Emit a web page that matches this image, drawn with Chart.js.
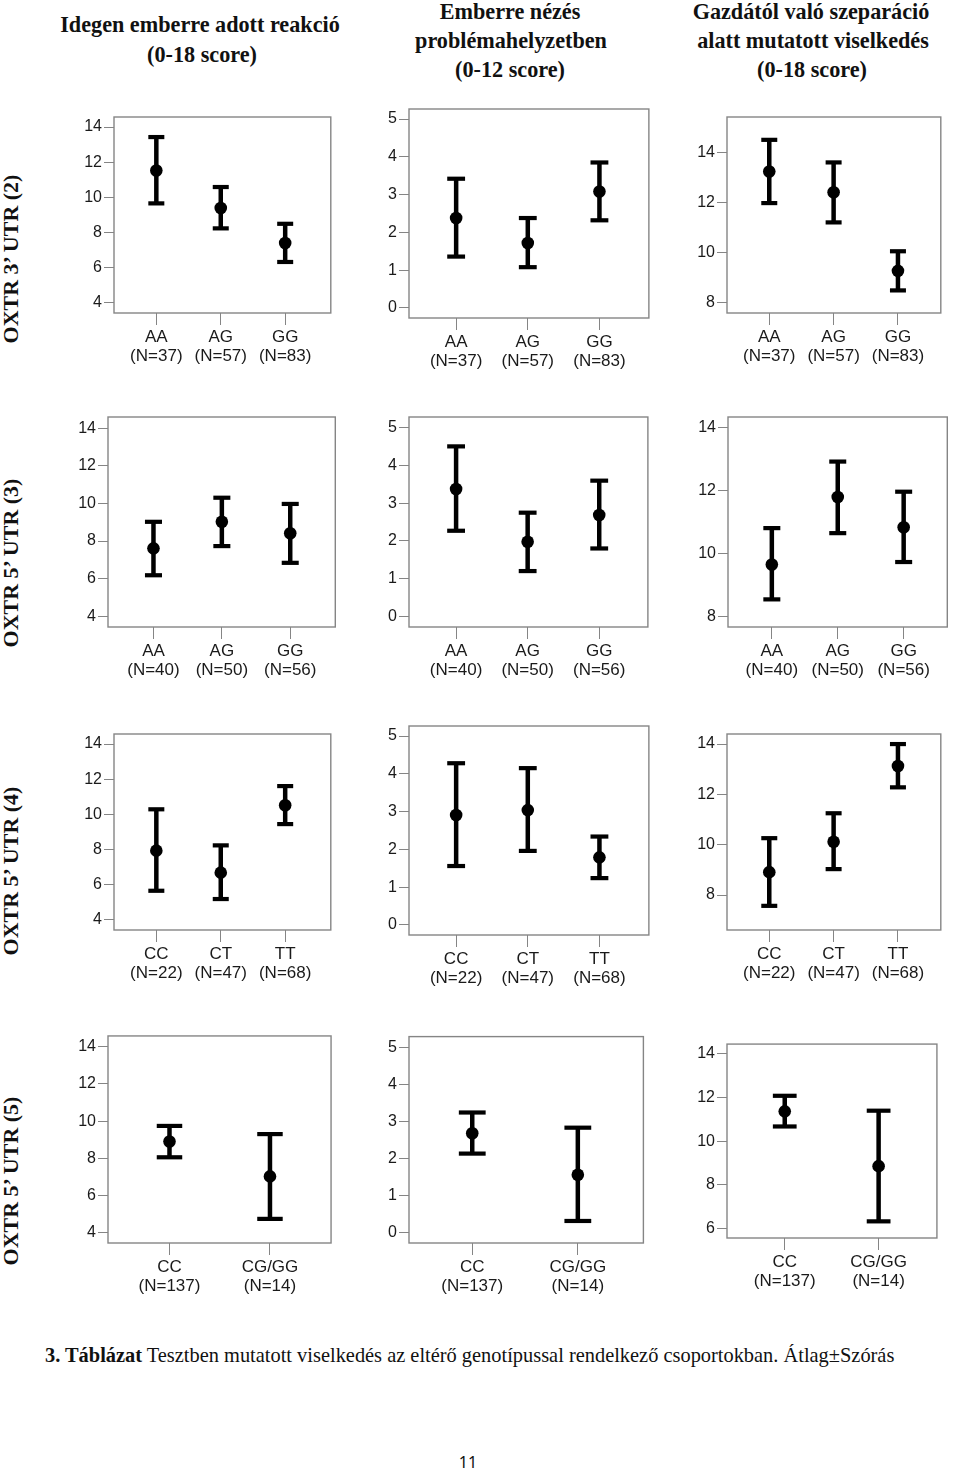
<!DOCTYPE html>
<html><head><meta charset="utf-8">
<script src="https://cdn.jsdelivr.net/npm/chart.js@4.4.0/dist/chart.umd.min.js"></script>
<style>
html,body{margin:0;padding:0;background:#fff;}
body{width:960px;height:1471px;position:relative;overflow:hidden;}
.tl{position:absolute;width:400px;height:30px;line-height:30px;text-align:center;font-family:"Liberation Serif","Times New Roman",serif;font-weight:bold;font-size:22.2px;color:#111;white-space:nowrap;}
.rl{position:absolute;width:300px;height:26px;line-height:26px;text-align:center;font-family:"Liberation Serif","Times New Roman",serif;font-weight:bold;font-size:22px;color:#111;white-space:nowrap;transform:rotate(-90deg);}
.cap{position:absolute;left:45px;top:1341px;height:28px;line-height:28px;font-family:"Liberation Serif","Times New Roman",serif;font-size:20.4px;color:#111;white-space:nowrap;}
.pg{position:absolute;left:448px;top:1451px;width:40px;text-align:center;font-family:"Noto Sans","Liberation Sans",sans-serif;font-size:16px;color:#111;}
canvas{position:absolute;}
</style></head><body>
<script>
// ---------- data ----------
const genoAG = ['AA','AG','GG'];
const genoCT = ['CC','CT','TT'];
const genoCG = ['CC','CG/GG'];
const nUTR3_2 = ['(N=37)','(N=57)','(N=83)'];
const nUTR5_3 = ['(N=40)','(N=50)','(N=56)'];
const nUTR5_4 = ['(N=22)','(N=47)','(N=68)'];
const nUTR5_5 = ['(N=137)','(N=14)'];
const ticksReac = [4,6,8,10,12,14];
const ticksLook = [0,1,2,3,4,5];
const ticksSep8 = [8,10,12,14];
const ticksSep6 = [6,8,10,12,14];

// row 1 : OXTR 3' UTR (2)
const r1ReacMean = [11.53, 9.40, 7.41], r1ReacLo = [9.66, 8.24, 6.33], r1ReacHi = [13.43, 10.59, 8.50];
const r1LookMean = [2.38, 1.72, 3.08], r1LookLo = [1.36, 1.08, 2.32], r1LookHi = [3.42, 2.38, 3.85];
const r1SepMean = [13.24, 12.41, 9.28], r1SepLo = [11.98, 11.21, 8.50], r1SepHi = [14.50, 13.60, 10.06];
// row 2 : OXTR 5' UTR (3)
const r2ReacMean = [7.61, 9.02, 8.41], r2ReacLo = [6.18, 7.73, 6.84], r2ReacHi = [9.02, 10.30, 9.97];
const r2LookMean = [3.38, 1.98, 2.69], r2LookLo = [2.27, 1.20, 1.80], r2LookHi = [4.51, 2.75, 3.60];
const r2SepMean = [9.65, 11.80, 10.84], r2SepLo = [8.54, 10.65, 9.73], r2SepHi = [10.81, 12.93, 11.97];
// row 3 : OXTR 5' UTR (4)
const r3ReacMean = [7.94, 6.69, 10.52], r3ReacLo = [5.66, 5.19, 9.45], r3ReacHi = [10.29, 8.24, 11.61];
const r3LookMean = [2.91, 3.04, 1.79], r3LookLo = [1.56, 1.96, 1.24], r3LookHi = [4.28, 4.15, 2.34];
const r3SepMean = [8.91, 10.12, 13.13], r3SepLo = [7.57, 9.03, 12.28], r3SepHi = [10.26, 11.25, 14.00];
// row 4 : OXTR 5' UTR (5)
const r4ReacMean = [8.90, 7.02], r4ReacLo = [8.05, 4.73], r4ReacHi = [9.74, 9.30];
const r4LookMean = [2.68, 1.56], r4LookLo = [2.13, 0.31], r4LookHi = [3.24, 2.83];
const r4SepMean = [11.36, 8.86], r4SepLo = [10.67, 6.34], r4SepHi = [12.07, 11.39];

// ---------- layout (box: left, top, right, bottom in page px; axis ranges) ----------
const panels = [
 {box:[114,117,333,313],  xr:[-0.657,2.708], yr:[3.43,14.57], ticks:ticksReac, cats:genoAG, ns:nUTR3_2, m:r1ReacMean, lo:r1ReacLo, hi:r1ReacHi},
 {box:[409,109,652,318],  xr:[-0.658,2.69],  yr:[-0.265,5.265], ticks:ticksLook, cats:genoAG, ns:nUTR3_2, m:r1LookMean, lo:r1LookLo, hi:r1LookHi},
 {box:[727,117,943,313],  xr:[-0.657,2.666], yr:[7.6,15.41], ticks:ticksSep8, cats:genoAG, ns:nUTR3_2, m:r1SepMean, lo:r1SepLo, hi:r1SepHi},
 {box:[108,417,338,627],  xr:[-0.665,2.659], yr:[3.43,14.59], ticks:ticksReac, cats:genoAG, ns:nUTR5_3, m:r2ReacMean, lo:r2ReacLo, hi:r2ReacHi},
 {box:[409,417,651,627],  xr:[-0.658,2.68],  yr:[-0.285,5.29], ticks:ticksLook, cats:genoAG, ns:nUTR5_3, m:r2LookMean, lo:r2LookLo, hi:r2LookHi},
 {box:[728,417,958,627],  xr:[-0.665,2.662], yr:[7.66,14.35], ticks:ticksSep8, cats:genoAG, ns:nUTR5_3, m:r2SepMean, lo:r2SepLo, hi:r2SepHi},
 {box:[114,734,333,930],  xr:[-0.657,2.708], yr:[3.43,14.57], ticks:ticksReac, cats:genoCT, ns:nUTR5_4, m:r3ReacMean, lo:r3ReacLo, hi:r3ReacHi},
 {box:[409,726,652,935],  xr:[-0.658,2.69],  yr:[-0.265,5.265], ticks:ticksLook, cats:genoCT, ns:nUTR5_4, m:r3LookMean, lo:r3LookLo, hi:r3LookHi},
 {box:[727,734,943,930],  xr:[-0.657,2.666], yr:[6.61,14.4], ticks:ticksSep8, cats:genoCT, ns:nUTR5_4, m:r3SepMean, lo:r3SepLo, hi:r3SepHi},
 {box:[108,1034,338,1243], xr:[-0.612,1.608], yr:[3.43,14.59], ticks:ticksReac, cats:genoCG, ns:nUTR5_5, m:r4ReacMean, lo:r4ReacLo, hi:r4ReacHi},
 {box:[409,1034,651,1243], xr:[-0.599,1.621], yr:[-0.285,5.29], ticks:ticksLook, cats:genoCG, ns:nUTR5_5, m:r4LookMean, lo:r4LookLo, hi:r4LookHi},
 {box:[727,1043,943,1238], xr:[-0.615,1.621], yr:[5.58,14.43], ticks:ticksSep6, cats:genoCG, ns:nUTR5_5, m:r4SepMean, lo:r4SepLo, hi:r4SepHi}
];

const titles = [
 [200,25,'Idegen emberre adott reakció'],[202,55,'(0-18 score)'],
 [510,12,'Emberre nézés'],[511,41,'problémahelyzetben'],[510,70,'(0-12 score)'],
 [811,12,'Gazdától való szeparáció'],[813,41,'alatt mutatott viselkedés'],[812,70,'(0-18 score)']
];
const rowLabels = [[11,259,'OXTR 3’ UTR (2)'],[11,563,'OXTR 5’ UTR (3)'],[11,871,'OXTR 5’ UTR (4)'],[11,1181,'OXTR 5’ UTR (5)']];

for (const [cx,cy,t] of titles){
  const d=document.createElement('div'); d.className='tl'; d.textContent=t;
  d.style.left=(cx-200)+'px'; d.style.top=(cy-15)+'px'; document.body.appendChild(d);
}
for (const [cx,cy,t] of rowLabels){
  const d=document.createElement('div'); d.className='rl'; d.textContent=t;
  d.style.left=(cx-150)+'px'; d.style.top=(cy-13)+'px'; document.body.appendChild(d);
}
const cap=document.createElement('div'); cap.className='cap';
cap.innerHTML='<b>3. Táblázat</b> Tesztben mutatott viselkedés az eltérő genotípussal rendelkező csoportokban. Átlag±Szórás';
document.body.appendChild(cap);
const pg=document.createElement('div'); pg.className='pg'; pg.textContent='11'; document.body.appendChild(pg);

Chart.defaults.font.family = '"Liberation Sans", Arial, sans-serif';
Chart.defaults.color = '#1a1a1a';

const framePlugin = {
  id:'frame',
  beforeDatasetsDraw(chart){
    const a=chart.chartArea, c=chart.ctx;
    c.save(); c.strokeStyle='#858585'; c.lineWidth=1.4;
    c.strokeRect(a.left, a.top, a.right-a.left, a.bottom-a.top);
    c.restore();
  }
};

const PL=70, PT=15, PB=70;
panels.forEach(p=>{
  const [l,t,r,b]=p.box;
  const PR = (r+10>960)?2:10;
  const cv=document.createElement('canvas');
  const W=r-l+PL+PR, H=b-t+PT+PB;
  cv.width=W; cv.height=H; cv.style.width=W+'px'; cv.style.height=H+'px';
  cv.style.left=(l-PL)+'px'; cv.style.top=(t-PT)+'px';
  document.body.appendChild(cv);
  const spacing=(r-l)/(p.xr[1]-p.xr[0]);
  const capHalf=spacing*0.123;
  const datasets=[];
  datasets.push({data:p.m.map((v,i)=>({x:i,y:v})), pointStyle:'circle', pointRadius:6.3, backgroundColor:'#000', borderWidth:0, clip:false});
  datasets.push({data:p.lo.map((v,i)=>({x:i,y:v})).concat(p.hi.map((v,i)=>({x:i,y:v}))), pointStyle:'line', pointRadius:capHalf, borderColor:'#000', borderWidth:4.2, clip:false});
  p.m.forEach((v,i)=>{
    datasets.push({data:[{x:i,y:p.lo[i]},{x:i,y:p.hi[i]}], showLine:true, borderColor:'#000', borderWidth:4.5, pointRadius:0, clip:false});
  });
  new Chart(cv,{
    type:'scatter',
    data:{datasets},
    options:{
      responsive:false, maintainAspectRatio:false, animation:false, devicePixelRatio:1, events:[],
      layout:{padding:{left:0,top:PT,right:PR,bottom:0}},
      plugins:{legend:{display:false}, tooltip:{enabled:false}},
      scales:{
        x:{type:'linear', min:p.xr[0], max:p.xr[1], bounds:'data',
           afterBuildTicks:s=>{s.ticks=p.cats.map((c,i)=>({value:i}));},
           afterFit:s=>{s.height=PB;},
           border:{display:false},
           grid:{drawOnChartArea:false, drawTicks:true, tickLength:12, color:'#858585', lineWidth:1},
           ticks:{autoSkip:false, maxRotation:0, padding:3, font:{size:17, lineHeight:1.1}, color:'#1a1a1a',
                  callback:(v)=>{const i=Math.round(v); return [p.cats[i], p.ns[i]];}}},
        y:{type:'linear', min:p.yr[0], max:p.yr[1], bounds:'data',
           afterBuildTicks:s=>{s.ticks=p.ticks.map(v=>({value:v}));},
           afterFit:s=>{s.width=PL;},
           border:{display:false},
           grid:{drawOnChartArea:false, drawTicks:true, tickLength:10, color:'#858585', lineWidth:1},
           ticks:{autoSkip:false, padding:2, font:{size:16}, color:'#1a1a1a'}}
      }
    },
    plugins:[framePlugin]
  });
});
</script>
</body></html>
